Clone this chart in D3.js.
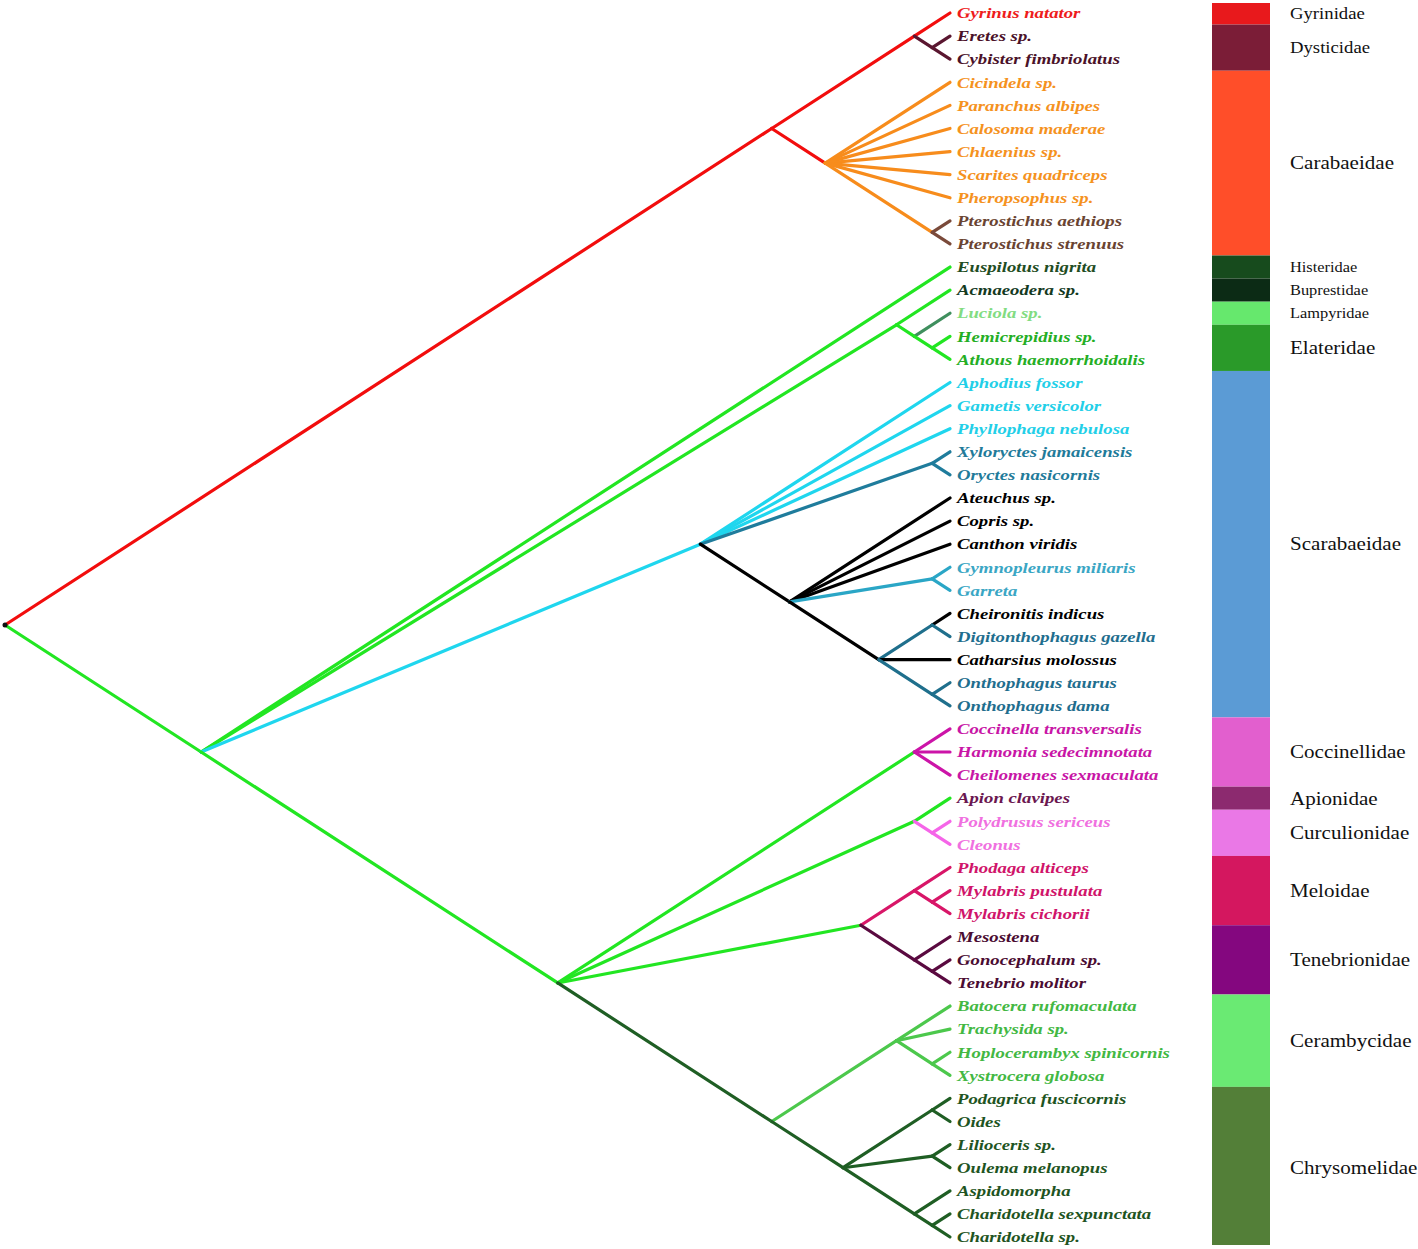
<!DOCTYPE html>
<html>
<head>
<meta charset="utf-8">
<script src="https://cdn.jsdelivr.net/npm/d3@7"></script>
<style>
  html, body { margin: 0; padding: 0; background: #fff; }
  svg { display: block; }
</style>
</head>
<body>
<svg id="chart" width="1418" height="1249"></svg>
<script>
// ---------------- DATA ----------------
// Tree topology (Newick, internal nodes labelled so edges can be coloured)
const newick = [
  "(",
  " ((Gyrinus natator,(Eretes sp.,Cybister fimbriolatus)Dyt)GyrDyt,",
  "  (Cicindela sp.,Paranchus albipes,Calosoma maderae,Chlaenius sp.,Scarites quadriceps,Pheropsophus sp.,",
  "   (Pterostichus aethiops,Pterostichus strenuus)Pter)Carab)RedClade,",
  " (Euspilotus nigrita,",
  "  (Acmaeodera sp.,(Luciola sp.,(Hemicrepidius sp.,Athous haemorrhoidalis)Elat)LucElat)BupLamElat,",
  "  (Aphodius fossor,Gametis versicolor,Phyllophaga nebulosa,(Xyloryctes jamaicensis,Oryctes nasicornis)Dyn,",
  "   (Ateuchus sp.,Copris sp.,Canthon viridis,(Gymnopleurus miliaris,Garreta)Gym,",
  "    ((Cheironitis indicus,Digitonthophagus gazella)CheDig,Catharsius molossus,",
  "     (Onthophagus taurus,Onthophagus dama)Onth)Onthini)Scarabaeinae)Scarab,",
  "  ((Coccinella transversalis,Harmonia sedecimnotata,Cheilomenes sexmaculata)Cocc,",
  "   (Apion clavipes,(Polydrusus sericeus,Cleonus)Curc)ApCurc,",
  "   ((Phodaga alticeps,(Mylabris pustulata,Mylabris cichorii)Myl)Mel,",
  "    (Mesostena,(Gonocephalum sp.,Tenebrio molitor)GonTen)Ten)MelTen,",
  "   ((Batocera rufomaculata,Trachysida sp.,(Hoplocerambyx spinicornis,Xystrocera globosa)HopXys)Ceram,",
  "    ((Podagrica fuscicornis,Oides)PodOid,(Lilioceris sp.,Oulema melanopus)LilOul,",
  "     (Aspidomorpha,(Charidotella sexpunctata,Charidotella sp.)Chari)Cass)Chrys)CerChrys)Lower)GreenClade",
  ")Root"
].join("");

// Families shown in the coloured legend bar (top to bottom) and number of tips each covers
const families = ["Gyrinidae","Dysticidae","Carabaeidae","Histeridae","Buprestidae","Lampyridae",
  "Elateridae","Scarabaeidae","Coccinellidae","Apionidae","Curculionidae","Meloidae",
  "Tenebrionidae","Cerambycidae","Chrysomelidae"];
const familyTipCounts = [1,2,8,1,1,1,2,15,3,1,2,3,3,4,7];

// ---------------- STYLES ----------------
const familyColors = ["#e8191c","#7b1d37","#ff4e29","#174b1d","#0c2b15","#66e86d",
  "#2a9a29","#5b9bd5","#e25fce","#8c2a6f","#ea78e6","#d4175f","#84077f","#6aea73","#537f38"];
const familyFontSize = {"Gyrinidae":16,"Dysticidae":16,"Histeridae":14,"Buprestidae":14,"Lampyridae":14};

// edge colours (inherited by descendants unless overridden)
const edgeColor = {
  "RedClade":"#f20d0d","Dyt":"#5a1630","Carab":"#f20d0d","Cicindela sp.":"#f78c1c","Paranchus albipes":"#f78c1c",
  "Calosoma maderae":"#f78c1c","Chlaenius sp.":"#f78c1c","Scarites quadriceps":"#f78c1c","Pheropsophus sp.":"#f78c1c",
  "Pter":"#f78c1c","Pterostichus aethiops":"#7a4a3a","Pterostichus strenuus":"#7a4a3a",
  "GreenClade":"#22e622","Luciola sp.":"#3f8f5e","Scarab":"#1fd6ee","Dyn":"#1f7c9c",
  "Scarabaeinae":"#000000","Gym":"#2aa6c6","CheDig":"#1f6f8c","Cheironitis indicus":"#000000",
  "Onth":"#1f6f8c","Catharsius molossus":"#000000",
  "Cocc":"#22e622","Coccinella transversalis":"#cc14a8","Harmonia sedecimnotata":"#cc14a8",
  "Cheilomenes sexmaculata":"#cc14a8","Curc":"#f565e8","Mel":"#d81668","Ten":"#5a0a40",
  "CerChrys":"#1f5e24","Ceram":"#4cc84c"
};
// tip label colours (inherited from nearest labelled ancestor)
const labelColor = {
  "Gyrinus natator":"#ee1c1c","Dyt":"#4b1229","Carab":"#f5921e","Pter":"#6a4432",
  "Euspilotus nigrita":"#1f4d23","Acmaeodera sp.":"#143a1f","Luciola sp.":"#82dc82","Elat":"#24ae24",
  "Scarab":"#22cfe8","Dyn":"#1f7b9a","Scarabaeinae":"#000000","Gym":"#3aa6c4",
  "Digitonthophagus gazella":"#1f6e8e","Onth":"#1f6e8e",
  "Cocc":"#c816a6","Apion clavipes":"#6b1750","Curc":"#f070e0","Mel":"#d0146a","Ten":"#4a0c32",
  "Ceram":"#43b843","Chrys":"#1e5422"
};

// ---------------- PARSE ----------------
function parseNewick(s) {
  let i = 0;
  function node() {
    const n = {};
    if (s[i] === "(") {
      i++;
      n.children = [];
      do { n.children.push(node()); } while (s[i++] === ",");
    }
    let name = "";
    while (i < s.length && !",()".includes(s[i])) name += s[i++];
    n.name = name.trim();
    return n;
  }
  return node();
}

const root = d3.hierarchy(parseNewick(newick.replace(/\s*([(),])\s*/g, "$1").trim()));
const leaves = root.leaves();
const N = leaves.length;
leaves.forEach((l, i) => l.idx = i);
root.eachAfter(n => {
  const lv = n.leaves();
  n.nt = lv.length;
  n.yv = d3.mean(lv, d => d.idx);
  n.xv = N - n.nt;        // cladogram depth (by number of descendant tips)
});

const x = d3.scaleLinear().domain([0, N - 1]).range([5, 950]);
const y = d3.scaleLinear().domain([0, N - 1]).range([13, 1237]);

function inherited(n, map) {
  let a = n;
  while (a) { if (map[a.data.name] !== undefined) return map[a.data.name]; a = a.parent; }
  return "#000";
}

const svg = d3.select("#chart");

// ---------------- EDGES ----------------
const links = root.links();
svg.append("g")
  .selectAll("line")
  .data(links)
  .join("line")
  .attr("x1", d => x(d.source.xv)).attr("y1", d => y(d.source.yv))
  .attr("x2", d => x(d.target.xv)).attr("y2", d => y(d.target.yv))
  .attr("stroke", d => inherited(d.target, edgeColor))
  .attr("stroke-width", 3.2)
  .attr("stroke-linecap", "round");

svg.append("circle")
  .attr("cx", x(root.xv)).attr("cy", y(root.yv)).attr("r", 2.5).attr("fill", "#111");

// ---------------- TIP LABELS ----------------
svg.append("g")
  .selectAll("text")
  .data(leaves)
  .join("text")
  .attr("transform", d => `translate(${x(d.xv) + 7},${y(d.yv)}) scale(1.25,1)`)
  .attr("dy", "0.35em")
  .attr("font-family", "'Liberation Serif','Times New Roman',serif")
  .attr("font-weight", "bold")
  .attr("font-style", "italic")
  .attr("font-size", 15)
  .attr("fill", d => inherited(d, labelColor))
  .text(d => d.data.name);

// ---------------- FAMILY BAR ----------------
let start = 0;
const famData = families.map((f, i) => {
  const o = { name: f, first: start, last: start + familyTipCounts[i] - 1, color: familyColors[i] };
  start += familyTipCounts[i];
  return o;
});
const yTop = d => Math.max(3, y(d.first - 0.5));
const yBot = d => Math.min(1245, y(d.last + 0.5));

const leg = svg.append("g");
leg.selectAll("rect")
  .data(famData)
  .join("rect")
  .attr("x", 1212).attr("width", 58)
  .attr("y", d => yTop(d))
  .attr("height", d => yBot(d) - yTop(d))
  .attr("fill", d => d.color);

leg.selectAll("text")
  .data(famData)
  .join("text")
  .attr("transform", d => `translate(1290,${y((d.first + d.last) / 2)}) scale(1.17,1)`)
  .attr("dy", "0.35em")
  .attr("font-family", "'Liberation Serif','Times New Roman',serif")
  .attr("font-size", d => familyFontSize[d.name] || 18)
  .attr("fill", "#111")
  .text(d => d.name);
</script>
</body>
</html>
